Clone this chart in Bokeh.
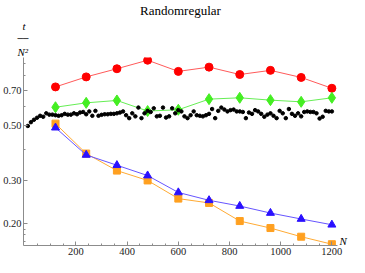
from bokeh.plotting import figure
from bokeh.models import (Range1d, FixedTicker, PrintfTickFormatter, Title,
                          LogAxis, CustomJSTickFormatter)
from bokeh.embed import file_html
from bokeh.resources import INLINE

# ---- data ----
N_marked = [120, 240, 360, 480, 600, 720, 840, 960, 1080, 1200]
red_circles = [0.721, 0.792, 0.855, 0.926, 0.834, 0.868, 0.810, 0.842, 0.788, 0.712]
green_diamonds = [0.596, 0.621, 0.635, 0.575, 0.582, 0.643, 0.651, 0.637, 0.627, 0.651]
blue_triangles = [0.492, 0.381, 0.346, 0.314, 0.268, 0.249, 0.236, 0.221, 0.209, 0.198]
orange_squares = [0.511, 0.386, 0.329, 0.300, 0.253, 0.243, 0.205, 0.192, 0.177, 0.165]

N_dots = list(range(12, 1201, 12))
black_dots = [
    0.500, 0.518, 0.530, 0.540, 0.550, 0.545, 0.563, 0.556,
    0.556, 0.553, 0.550, 0.553, 0.560, 0.556, 0.556, 0.563,
    0.558, 0.567, 0.570, 0.558, 0.573, 0.550, 0.576, 0.550,
    0.555, 0.558, 0.558, 0.560, 0.560, 0.563, 0.567, 0.573,
    0.553, 0.538, 0.563, 0.547, 0.594, 0.538, 0.563, 0.576,
    0.570, 0.590, 0.547, 0.550, 0.594, 0.541, 0.547, 0.590,
    0.563, 0.580, 0.573, 0.547, 0.538, 0.553, 0.573, 0.553,
    0.550, 0.547, 0.553, 0.560, 0.586, 0.538, 0.576, 0.594,
    0.583, 0.573, 0.580, 0.583, 0.573, 0.573, 0.570, 0.538,
    0.567, 0.560, 0.580, 0.573, 0.560, 0.545, 0.556, 0.563,
    0.550, 0.538, 0.576, 0.563, 0.538, 0.586, 0.560, 0.550,
    0.563, 0.547, 0.570, 0.573, 0.570, 0.570, 0.563, 0.536,
    0.545, 0.576, 0.573, 0.573,
]

y_major = [0.2, 0.3, 0.5, 0.7]
y_minor = [0.16, 0.17, 0.18, 0.19, 0.4, 0.6, 0.8, 0.9]
x_major = [200, 400, 600, 800, 1000, 1200]
x_minor = [50, 100, 150, 250, 300, 350, 450, 500, 550, 650, 700, 750,
           850, 900, 950, 1050, 1100, 1150]

title_text = "Randomregular"
y_label_top = "t"
y_label_bottom = "N\u00b2"
x_label = "N"
serif = "Liberation Serif"

W, H = 349, 257
L, R, T, B = 20, 10, 46, 12

p = figure(width=W, height=H, output_backend="svg", toolbar_location=None,
           y_axis_type="log",
           x_range=Range1d(-5, 1222), y_range=Range1d(0.163, 0.95),
           min_border_left=L, min_border_right=R, min_border_top=T,
           min_border_bottom=B)
p.outline_line_color = None
p.grid.visible = False
p.background_fill_color = "white"
p.border_fill_color = "white"

for ax in (p.xaxis[0], p.yaxis[0]):
    ax.axis_line_color = "#8c8c8c"
    ax.major_tick_line_color = "#8c8c8c"
    ax.minor_tick_line_color = "#8c8c8c"
    ax.major_tick_in = 4
    ax.major_tick_out = 0
    ax.minor_tick_in = 2
    ax.minor_tick_out = 0
    ax.axis_label_standoff = 0
    ax.major_label_text_font = serif
    ax.major_label_text_font_size = "10.5px"
    ax.major_label_text_color = "#222222"
    ax.major_label_standoff = 2

p.xaxis[0].ticker = FixedTicker(ticks=x_major, minor_ticks=x_minor)
p.yaxis[0].ticker = FixedTicker(ticks=y_major, minor_ticks=y_minor)
p.yaxis[0].formatter = PrintfTickFormatter(format="%.2f")

# "N" label at the right end of the horizontal axis, via a bare right axis
n_axis = LogAxis(ticker=FixedTicker(ticks=[0.17], minor_ticks=[]),
                 formatter=CustomJSTickFormatter(code="return '%s';" % x_label),
                 axis_line_color=None, major_tick_line_color=None,
                 minor_tick_line_color=None, major_tick_in=0, major_tick_out=0,
                 minor_tick_in=0, minor_tick_out=0, axis_label_standoff=0,
                 major_label_standoff=2,
                 major_label_text_font=serif, major_label_text_font_style="italic",
                 major_label_text_font_size="11px", major_label_text_color="black")
p.add_layout(n_axis, "right")

# series
p.line(N_marked, red_circles, line_color="#ff5a5a", line_width=1)
p.scatter(N_marked, red_circles, marker="circle", size=8, fill_color="#ff0000", line_color="#ff0000")

p.line(N_marked, green_diamonds, line_color="#66ee55", line_width=1)
p.scatter(N_marked, green_diamonds, marker="diamond", size=11, fill_color="#44ee22", line_color="#44ee22")

p.scatter(N_dots, black_dots, marker="circle", size=3.5, fill_color="black", line_color="black")

p.line(N_marked, orange_squares, line_color="#ffaa33", line_width=1)
p.scatter(N_marked, orange_squares, marker="square", size=7, fill_color="#ffa020", line_color="#ffa020")

p.line(N_marked, blue_triangles, line_color="#6655ff", line_width=1)
p.scatter(N_marked, blue_triangles, marker="triangle", size=8, fill_color="#2a10ff", line_color="#2a10ff")

# titles stacked above the frame: later ones sit farther up
def add_title(text, size, align="left", offset=0, style="normal", font=serif):
    p.add_layout(Title(text=text, text_font=font, text_font_size=size,
                       text_font_style=style, align=align, offset=offset,
                       standoff=0, text_color="black"), "above")

add_title(y_label_bottom, "11px", offset=-6, style="italic")
add_title("\u2500\u2500", "9px", offset=-6, font="DejaVu Sans")
add_title(y_label_top, "11px", offset=-1, style="italic")
add_title(title_text, "13px", align="center")

open("out.html", "w").write(file_html(p, INLINE))
